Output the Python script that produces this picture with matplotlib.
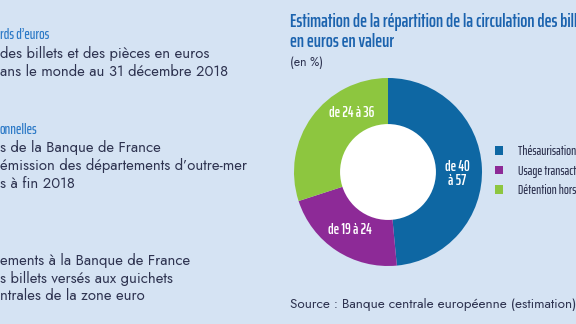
import numpy as np
import matplotlib
matplotlib.use("Agg")
import matplotlib.pyplot as plt
from matplotlib.patches import Circle
from matplotlib.font_manager import FontProperties

# --- data -------------------------------------------------------------
segments = [
    "Thésaurisation dans la zone euro",
    "Usage transactionnel dans la zone euro",
    "Détention hors zone euro",
]
range_low = [40, 19, 24]
range_high = [57, 24, 36]
share_mid = [48.5, 21.5, 30.0]   # centre of each estimated range (%)

title_lines = [
    "Estimation de la répartition de la circulation des billets",
    "en euros en valeur",
]
unit_text = "(en %)"
source_text = "Source : Banque centrale européenne (estimation)"

side_lines = [
    ("rds d’euros", "head"),
    ("des billets et des pièces en euros", "body"),
    ("ans le monde au 31 décembre 2018", "body"),
    ("onnelles", "head"),
    ("s de la Banque de France", "body"),
    ("émission des départements d’outre-mer", "body"),
    ("s à fin 2018", "body"),
    ("ements à la Banque de France", "body"),
    ("s billets versés aux guichets", "body"),
    ("ntrales de la zone euro", "body"),
]

# --- styling ----------------------------------------------------------
W, H, DPI = 576, 324, 100
BG = "#d5e3f3"
TXT = "#2e3350"
TITLE_BLUE = "#1b63ae"
HEAD_BLUE = "#2a78c6"
colors = ["#0e67a3", "#8d2a97", "#8dc63f"]

COND = ["Saira ExtraCondensed", "DejaVu Sans"]
BODY = ["Jost", "DejaVu Sans"]


def fx(x):
    return x / W


def fy(y):
    return 1 - y / H


fig = plt.figure(figsize=(W / DPI, H / DPI), dpi=DPI, facecolor=BG)

# left-hand text column (continues beyond the left edge)
side_baselines = [39, 58, 76, 134, 152, 170, 188, 265, 283, 300]
for (txt, kind), yb in zip(side_lines, side_baselines):
    if kind == "head":
        fig.text(fx(0), fy(yb), txt, family=COND, weight=500, size=10.5,
                 color=HEAD_BLUE, ha="left", va="baseline")
    else:
        fig.text(fx(0), fy(yb), txt, family=BODY, size=10.7,
                 color=TXT, ha="left", va="baseline")

# chart title block
fig.text(fx(290), fy(27), title_lines[0], family=COND, weight=600, size=13.3,
         color=TITLE_BLUE, ha="left", va="baseline")
fig.text(fx(290), fy(47), title_lines[1], family=COND, weight=600, size=13.3,
         color=TITLE_BLUE, ha="left", va="baseline")
fig.text(fx(290), fy(66), unit_text, family=BODY, size=8.8,
         color=TXT, ha="left", va="baseline")
fig.text(fx(290), fy(308), source_text, family=BODY, size=9.7,
         color=TXT, ha="left", va="baseline")

# donut
cx, cy, R = 388, 172, 94
ax = fig.add_axes([fx(cx - R), fy(cy + R), 2 * R / W, 2 * R / H])
ax.axis("off")

wedges, _ = ax.pie(share_mid, colors=colors, startangle=90, counterclock=False,
                   radius=1.0, wedgeprops=dict(linewidth=0))
ax.add_patch(Circle((0, 0), 0.51, facecolor="white", edgecolor="none", zorder=3))
ax.set_xlim(-1, 1)
ax.set_ylim(-1, 1)
ax.set_aspect("equal")

# value labels placed inside the ring (angles clockwise from the top)
bounds = np.concatenate([[0], np.cumsum(share_mid)]) / np.sum(share_mid) * 360
mid = (bounds[:-1] + bounds[1:]) / 2
angle_shift = [4.5, 0.0, 22.0]
label_r = 0.74
for i, (lo, hi) in enumerate(zip(range_low, range_high)):
    th = np.deg2rad(mid[i] + angle_shift[i])
    txt = f"de {lo}\nà {hi}" if i == 0 else f"de {lo} à {hi}"
    ax.text(label_r * np.sin(th), label_r * np.cos(th), txt, family=COND,
            weight=600, size=10.5, color="white", ha="center", va="center",
            linespacing=1.0, zorder=4)

# legend
leg = ax.legend(wedges, segments, loc="center left",
                bbox_to_anchor=(fx(495), fy(171)), bbox_transform=fig.transFigure,
                frameon=False,
                prop=FontProperties(family=COND, size=9.3, weight=500),
                handlelength=0.6, handleheight=0.6, handletextpad=1.15,
                labelspacing=0.5, borderpad=0, borderaxespad=0)
for t in leg.get_texts():
    t.set_color(TXT)

fig.savefig("out.png", dpi=DPI, facecolor=BG)
